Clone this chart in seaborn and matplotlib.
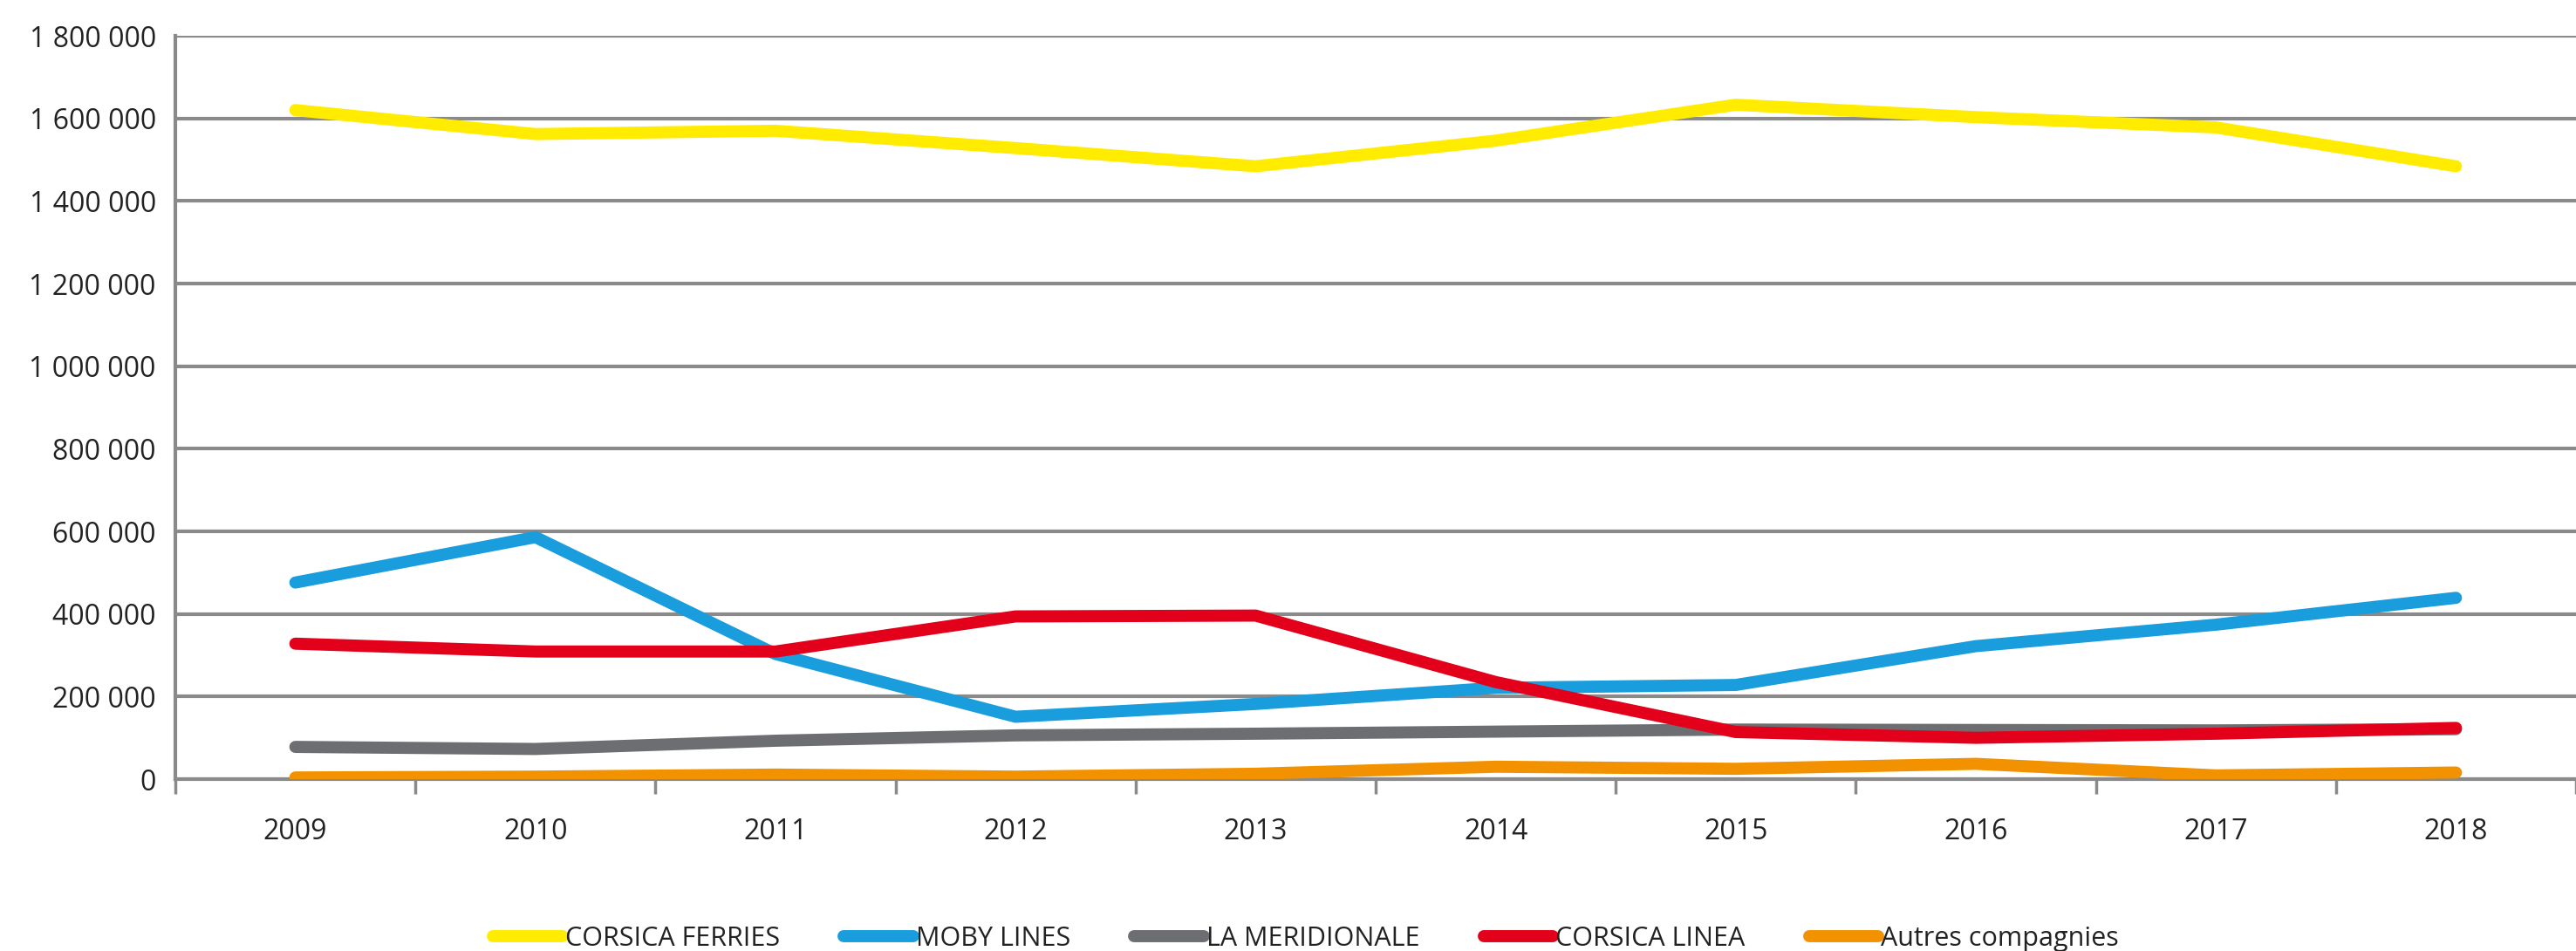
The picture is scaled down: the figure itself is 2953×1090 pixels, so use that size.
import numpy as np
import pandas as pd
import matplotlib
matplotlib.use("Agg")
import matplotlib.pyplot as plt
from matplotlib.ticker import FuncFormatter, FixedLocator
import seaborn as sns

# data (passengers per year)
years = [2009, 2010, 2011, 2012, 2013, 2014, 2015, 2016, 2017, 2018]
corsica_ferries = [1620000, 1562000, 1570000, 1528000, 1484000, 1546000, 1633000, 1603000, 1578000, 1484000]
moby_lines = [476000, 586000, 303000, 151000, 182000, 221000, 228000, 322000, 374000, 439000]
la_meridionale = [78000, 73000, 93000, 106000, 110000, 115000, 120000, 119000, 118000, 121000]
corsica_linea = [328000, 309000, 309000, 394000, 396000, 235000, 114000, 100000, 110000, 124000]
autres = [4000, 6000, 11000, 6000, 13000, 30000, 25000, 37000, 9000, 16000]

series_names = ["CORSICA FERRIES", "MOBY LINES", "LA MERIDIONALE", "CORSICA LINEA", "Autres compagnies"]
series_values = [corsica_ferries, moby_lines, la_meridionale, corsica_linea, autres]
colors = ["#FFEC00", "#1A9DDD", "#6D6E71", "#E2001A", "#F39200"]

y_ticks = list(range(0, 1800001, 200000))


def fmt_thousands(v, pos):
    return f"{int(v):,}".replace(",", " ")


records = []
for name, vals in zip(series_names, series_values):
    for yr, v in zip(years, vals):
        records.append({"year": yr, "value": v, "company": name})
df = pd.DataFrame.from_records(records)

sns.set_theme(style="white")
plt.rcParams["font.family"] = ["Open Sans", "DejaVu Sans"]

fig = plt.figure(figsize=(29.53, 10.90), dpi=100)
ax = fig.add_axes([201 / 2953, 1 - 893 / 1090, 1 - 201 / 2953, (893 - 41) / 1090])

grid_col = "#8A8A8A"
text_col = "#222222"
ax.set_ylim(0, 1800000)
ax.set_xlim(years[0] - 0.5, years[-1] + 0.5)
ax.yaxis.set_major_locator(FixedLocator(y_ticks))
ax.yaxis.set_major_formatter(FuncFormatter(fmt_thousands))
ax.grid(axis="y", color=grid_col, linewidth=3.0, zorder=0)
ax.set_axisbelow(True)

sns.lineplot(
    data=df, x="year", y="value", hue="company",
    hue_order=series_names, palette=dict(zip(series_names, colors)),
    linewidth=10, ax=ax, legend=True, zorder=3,
    solid_capstyle="round", solid_joinstyle="round",
)

ax.set_xticks(years)
ax.set_xticklabels([str(y) for y in years])
ax.set_xticks(np.arange(years[0] - 0.5, years[-1] + 0.6, 1.0), minor=True)
ax.tick_params(axis="x", which="major", length=0, pad=32, labelsize=23, labelcolor=text_col)
ax.tick_params(axis="x", which="minor", length=12, width=2.5, color=grid_col, bottom=True)
ax.tick_params(axis="y", which="major", length=0, pad=16, labelsize=23, labelcolor=text_col)
ax.set_xlabel("")
ax.set_ylabel("")

for side in ["top", "right"]:
    ax.spines[side].set_visible(False)
for side in ["left", "bottom"]:
    ax.spines[side].set_visible(True)
    ax.spines[side].set_color(grid_col)
    ax.spines[side].set_linewidth(3.0)

handles, labels = ax.get_legend_handles_labels()
ax.legend_.remove()
leg = fig.legend(
    handles, labels, loc="center", bbox_to_anchor=(1497 / 2953, 1 - 1076 / 1090),
    ncol=5, frameon=False, fontsize=22, handlelength=2.6, handletextpad=0.1,
    columnspacing=2.4, borderaxespad=0,
)
for t in leg.get_texts():
    t.set_color(text_col)

fig.savefig("out.png", dpi=100, facecolor="white")
